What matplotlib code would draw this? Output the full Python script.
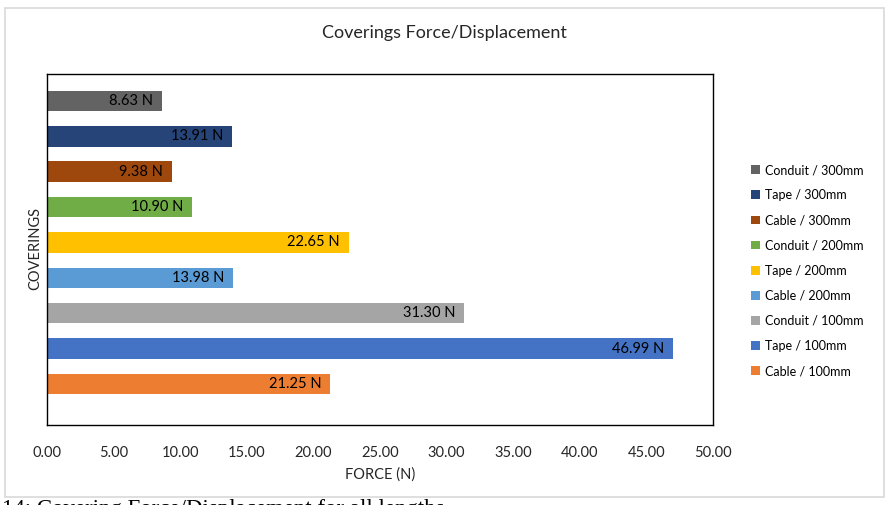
import matplotlib
matplotlib.use('Agg')
import matplotlib.pyplot as plt
from matplotlib.patches import Rectangle

# Dữ liệu: từ dưới lên trên
coverings = ['Cable / 100mm', 'Tape / 100mm', 'Conduit / 100mm',
             'Cable / 200mm', 'Tape / 200mm', 'Conduit / 200mm',
             'Cable / 300mm', 'Tape / 300mm', 'Conduit / 300mm']
forces = [21.25, 46.99, 31.30, 13.98, 22.65, 10.90, 9.38, 13.91, 8.63]
colours = ['#ED7D31', '#4472C4', '#A5A5A5', '#5B9BD5', '#FFC000',
           '#70AD47', '#9E480E', '#264478', '#636363']
x_ticks = [0, 5, 10, 15, 20, 25, 30, 35, 40, 45, 50]

plt.rcParams['font.family'] = ['Lato', 'DejaVu Sans']

W, H = 891, 505
fig = plt.figure(figsize=(W / 100, H / 100), dpi=100)

# Khung ngoài của biểu đồ
fig.patches.append(Rectangle((5 / W, 1 - 497 / H), 879 / W, 489 / H,
                             transform=fig.transFigure, fill=False,
                             edgecolor='#d9d9d9', linewidth=1.2))

ax = fig.add_axes([47 / W, 1 - 425 / H, (713 - 47) / W, (425 - 74) / H])

handles = []
for i, (name, f, c) in enumerate(zip(coverings, forces, colours)):
    b = ax.barh(i, f, height=0.58, color=c, label=name)
    handles.append(b)
    ax.text(f - 0.65, i, f'{f:.2f} N', ha='right', va='center',
            fontsize=10.5, color='black')

ax.set_xlim(0, 50)
ax.set_ylim(-1.16, 8.76)
ax.set_xticks(x_ticks)
ax.set_xticklabels([f'{t:.2f}' for t in x_ticks], fontsize=10.5, color='#262626')
ax.set_yticks([])
ax.tick_params(axis='x', length=0, pad=15)
for s in ax.spines.values():
    s.set_color('black')
    s.set_linewidth(1.0)

fig.text(444 / W, 1 - 33 / H, 'Coverings Force/Displacement', ha='center',
         va='center', fontsize=13, color='#262626')
fig.text(380 / W, 1 - 475 / H, 'FORCE (N)', ha='center', va='center',
         fontsize=10.5, color='#262626')
fig.text(35 / W, 1 - 249 / H, 'COVERINGS', ha='center', va='center',
         rotation=90, fontsize=10.5, color='#262626')

fig.legend(handles[::-1], coverings[::-1], loc='upper left',
           bbox_to_anchor=(751 / W, 1 - 164 / H), frameon=False,
           fontsize=9, handlelength=0.7, handleheight=0.7, handletextpad=0.4,
           labelspacing=1.05, borderpad=0, borderaxespad=0)

# Chú thích bị cắt ở đáy ảnh (như trong ảnh gốc)
fig.text(2 / W, 1 - 499 / H, '14: Covering Force/Displacement for all lengths',
         ha='left', va='top', fontsize=16.5, family='Liberation Serif')

fig.savefig('out.png', dpi=100)
